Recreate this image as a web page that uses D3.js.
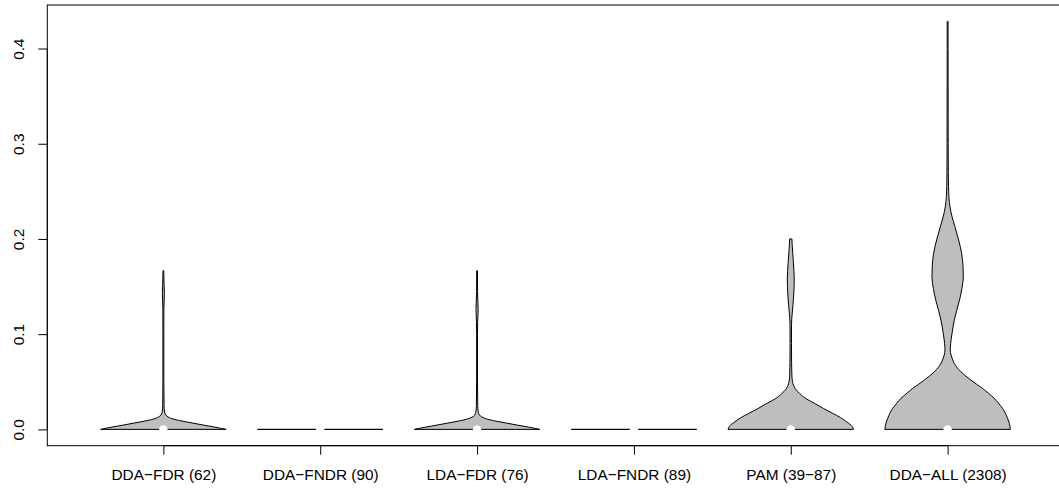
<!DOCTYPE html>
<html>
<head>
<meta charset="utf-8">
<script src="https://cdn.jsdelivr.net/npm/d3@7"></script>
<style>
  html, body { margin: 0; padding: 0; background: #fff; }
  svg { display: block; }
  text { font-family: "Liberation Sans", Arial, Helvetica, sans-serif; fill: #000; }
</style>
</head>
<body>
<svg id="chart" width="1059" height="490"></svg>
<script>
// Groups shown along the x axis
const categories = [
  "DDA\u2212FDR (62)",
  "DDA\u2212FNDR (90)",
  "LDA\u2212FDR (76)",
  "LDA\u2212FNDR (89)",
  "PAM (39\u221287)",
  "DDA\u2212ALL (2308)"
];

// Median of each group (drawn as a white dot)
const medians = [0, 0, 0, 0, 0, 0];

// Y axis tick values
const yTicks = [0, 0.1, 0.2, 0.3, 0.4];

// Density profile of each group: [value, relative density (1 = widest)]
const ddaFdrDensity = [
  [0, 1.0], [0.0024, 0.82], [0.0045, 0.64], [0.0066, 0.47], [0.0087, 0.30],
  [0.0108, 0.16], [0.0129, 0.08], [0.015, 0.04], [0.018, 0.02], [0.025, 0.011],
  [0.05, 0.007], [0.1, 0.007], [0.125, 0.008], [0.135, 0.012], [0.143, 0.016],
  [0.151, 0.012], [0.16, 0.008], [0.16667, 0.006]
];
const ddaFndrDensity = [[0, 1.0], [0, 1.0]];
const ldaFdrDensity = [
  [0, 1.0], [0.0024, 0.82], [0.0045, 0.64], [0.0066, 0.47], [0.0087, 0.30],
  [0.0108, 0.16], [0.0129, 0.08], [0.015, 0.04], [0.018, 0.02], [0.025, 0.011],
  [0.05, 0.007], [0.1, 0.007], [0.112, 0.009], [0.12, 0.014], [0.126, 0.017],
  [0.133, 0.013], [0.145, 0.008], [0.16667, 0.006]
];
const ldaFndrDensity = [[0, 1.0], [0, 1.0]];
const pamDensity = [
  [0, 1.0], [0.003, 0.98], [0.008, 0.89], [0.0125, 0.79], [0.0168, 0.67],
  [0.022, 0.52], [0.0273, 0.38], [0.032, 0.25], [0.0378, 0.14], [0.042, 0.08],
  [0.046, 0.045], [0.05, 0.028], [0.056, 0.018], [0.07, 0.013], [0.09, 0.011],
  [0.11, 0.012], [0.12, 0.02], [0.13, 0.034], [0.14, 0.046], [0.15, 0.053],
  [0.158, 0.055], [0.166, 0.051], [0.175, 0.042], [0.185, 0.031], [0.194, 0.022],
  [0.2, 0.018]
];
const ddaAllDensity = [
  [0, 1.0], [0.006, 0.985], [0.0116, 0.955], [0.017, 0.92], [0.022, 0.876],
  [0.0275, 0.81], [0.0326, 0.743], [0.038, 0.65], [0.043, 0.557], [0.0475, 0.46],
  [0.0518, 0.371], [0.056, 0.29], [0.0605, 0.212], [0.065, 0.15], [0.0694, 0.106],
  [0.074, 0.075], [0.078, 0.055], [0.0833, 0.042], [0.09, 0.048], [0.1, 0.068],
  [0.1149, 0.107], [0.125, 0.145], [0.136, 0.19], [0.148, 0.228], [0.1604, 0.25],
  [0.172, 0.245], [0.185, 0.223], [0.199, 0.175], [0.213, 0.116], [0.224, 0.068],
  [0.234, 0.037], [0.2445, 0.02], [0.255, 0.014], [0.27, 0.011], [0.3, 0.009],
  [0.35, 0.008], [0.4, 0.007], [0.42857, 0.007]
];

const densities = [ddaFdrDensity, ddaFndrDensity, ldaFdrDensity, ldaFndrDensity, pamDensity, ddaAllDensity];

// ---- layout ----
const plot = { left: 47.3, top: 5, right: 1063.7, bottom: 445.7 };
const svg = d3.select("#chart");
const n = categories.length;
const violinHalf = 0.4;   // half width of the widest violin, in group units
const fontSize = 15.4;

// R-style axis ranges: [0.5, n + 0.5] and data range, each padded 4%
const x = d3.scaleLinear()
  .domain([0.5 - 0.04 * n, n + 0.5 + 0.04 * n])
  .range([plot.left, plot.right]);

const yMin = d3.min(densities, p => d3.min(p, d => d[0]));
const yMax = d3.max(densities, p => d3.max(p, d => d[0]));
const pad = 0.04 * (yMax - yMin);
const y = d3.scaleLinear()
  .domain([yMin - pad, yMax + pad])
  .range([plot.bottom, plot.top]);

// ---- violins ----
const g = svg.append("g");
densities.forEach((prof, i) => {
  const c = i + 1;
  const flat = d3.max(prof, d => d[0]) === d3.min(prof, d => d[0]);
  const area = d3.area()
    .y(d => y(d[0]))
    .x0(d => x(c - violinHalf * d[1]))
    .x1(d => x(c + violinHalf * d[1]))
    .curve(flat ? d3.curveLinear : d3.curveMonotoneY);
  g.append("path")
    .datum(prof)
    .attr("d", area)
    .attr("fill", "#bebebe")
    .attr("stroke", "#000")
    .attr("stroke-width", 1)
    .attr("stroke-linejoin", "round");
});

// median dots
g.selectAll("circle.med")
  .data(medians)
  .join("circle")
  .attr("class", "med")
  .attr("cx", (d, i) => x(i + 1))
  .attr("cy", d => y(d))
  .attr("r", 4.2)
  .attr("fill", "#fff");

// ---- frame ----
svg.append("rect")
  .attr("x", plot.left)
  .attr("y", plot.top)
  .attr("width", plot.right - plot.left)
  .attr("height", plot.bottom - plot.top)
  .attr("fill", "none")
  .attr("stroke", "#000")
  .attr("stroke-width", 1);

// ---- y axis ----
const yAxis = svg.append("g")
  .attr("transform", `translate(${plot.left},0)`)
  .call(d3.axisLeft(y).tickValues(yTicks).tickFormat(d3.format(".1f")).tickSize(9).tickSizeOuter(0));
yAxis.select(".domain").remove();
yAxis.append("line")
  .attr("x1", 0).attr("x2", 0)
  .attr("y1", y(yTicks[0])).attr("y2", y(yTicks[yTicks.length - 1]))
  .attr("stroke", "#000");
yAxis.selectAll(".tick line").attr("stroke", "#000");
yAxis.selectAll(".tick text")
  .attr("x", null).attr("dy", null)
  .attr("transform", "translate(-23,0) rotate(-90)")
  .attr("text-anchor", "middle")
  .style("font-family", "'Liberation Sans', Arial, sans-serif")
  .style("font-size", fontSize + "px")
  .attr("fill", "#000");

// ---- x axis ----
const xTicks = d3.range(1, n + 1);
const xAxis = svg.append("g")
  .attr("transform", `translate(0,${plot.bottom})`)
  .call(d3.axisBottom(x).tickValues(xTicks).tickFormat(d => categories[d - 1]).tickSize(9).tickSizeOuter(0));
xAxis.select(".domain").remove();
xAxis.append("line")
  .attr("x1", x(xTicks[0])).attr("x2", x(xTicks[xTicks.length - 1]))
  .attr("y1", 0).attr("y2", 0)
  .attr("stroke", "#000");
xAxis.selectAll(".tick line").attr("stroke", "#000");
xAxis.selectAll(".tick text")
  .attr("y", 34).attr("dy", null)
  .attr("text-anchor", "middle")
  .style("font-family", "'Liberation Sans', Arial, sans-serif")
  .style("font-size", fontSize + "px")
  .attr("fill", "#000");
</script>
</body>
</html>
